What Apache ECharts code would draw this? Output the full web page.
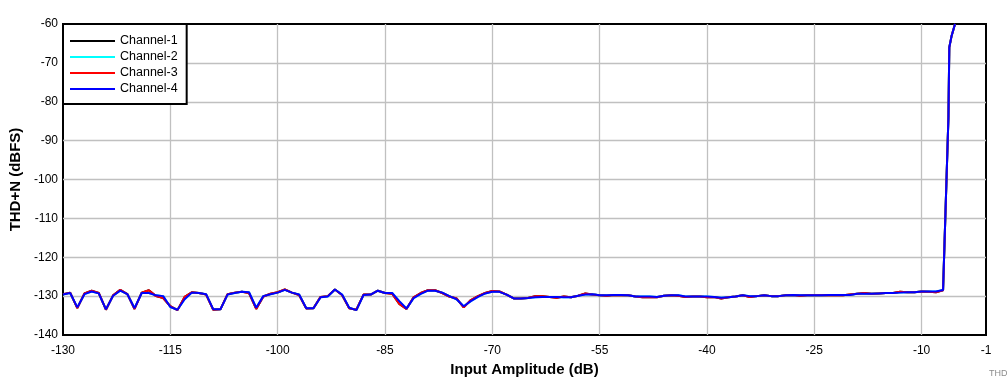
<!DOCTYPE html>
<html>
<head>
<meta charset="utf-8">
<script src="https://cdn.jsdelivr.net/npm/echarts@6/dist/echarts.min.js"></script>
<style>html,body{margin:0;padding:0;background:#fff}#c{width:1007px;height:387px}</style>
</head>
<body>
<div id="c"></div>
<script>
var amplitude = [-130,-129,-128,-127,-126,-125,-124,-123,-122,-121,-120,-119,-118,-117,-116,-115,-114,-113,-112,-111,-110,-109,-108,-107,-106,-105,-104,-103,-102,-101,-100,-99,-98,-97,-96,-95,-94,-93,-92,-91,-90,-89,-88,-87,-86,-85,-84,-83,-82,-81,-80,-79,-78,-77,-76,-75,-74,-73,-72,-71,-70,-69,-68,-67,-66,-65,-64,-63,-62,-61,-60,-59,-58,-57,-56,-55,-54,-53,-52,-51,-50,-49,-48,-47,-46,-45,-44,-43,-42,-41,-40,-39,-38,-37,-36,-35,-34,-33,-32,-31,-30,-29,-28,-27,-26,-25,-24,-23,-22,-21,-20,-19,-18,-17,-16,-15,-14,-13,-12,-11,-10,-9,-8,-7,-6.9,-6.25,-6.13,-5.8,-5.33];

var channel4 = [-129.6,-129.2,-132.9,-129.5,-128.8,-129.3,-133.4,-129.9,-128.6,-129.5,-133.1,-129.2,-129.2,-129.8,-130.0,-132.8,-133.5,-130.8,-129.1,-129.2,-129.5,-133.4,-133.4,-129.6,-129.2,-128.9,-129.0,-133.0,-130.0,-129.5,-129.1,-128.4,-129.1,-129.6,-133.1,-133.1,-130.3,-130.1,-128.3,-129.6,-133.0,-133.6,-129.7,-129.6,-128.6,-129.2,-129.2,-131.3,-133.2,-130.5,-129.4,-128.6,-128.6,-129.1,-130.0,-130.8,-132.6,-131.3,-130.2,-129.3,-128.9,-128.9,-129.6,-130.6,-130.6,-130.5,-130.3,-130.2,-130.2,-130.2,-130.3,-130.3,-129.9,-129.6,-129.5,-129.8,-129.8,-129.7,-129.7,-129.8,-130.1,-130.1,-130.1,-130.2,-129.9,-129.8,-129.8,-130.1,-130.1,-130.1,-130.1,-130.2,-130.4,-130.3,-130.1,-129.8,-130.0,-130.0,-129.8,-130.0,-130.0,-129.8,-129.7,-129.8,-129.8,-129.8,-129.8,-129.7,-129.7,-129.7,-129.7,-129.4,-129.4,-129.4,-129.3,-129.2,-129.2,-129.1,-129.0,-129.0,-128.8,-128.8,-128.8,-128.4,-128.2,-84.0,-66.0,-63.0,-60.0];

var channel3 = [-129.5,-129.1,-133.1,-129.3,-128.6,-129.2,-133.5,-129.8,-128.4,-129.5,-133.3,-129.1,-128.5,-130.0,-130.5,-132.6,-133.6,-130.2,-129.0,-129.2,-129.6,-133.5,-133.4,-129.5,-129.1,-128.9,-129.2,-133.3,-130.1,-129.4,-129.0,-128.3,-129.1,-129.7,-133.2,-133.1,-130.2,-130.0,-128.3,-129.7,-133.1,-133.5,-129.6,-129.6,-128.6,-129.2,-129.4,-132.0,-133.3,-130.3,-129.2,-128.5,-128.5,-129.2,-130.1,-130.6,-132.9,-131.0,-130.0,-129.2,-128.7,-128.8,-129.6,-130.6,-130.6,-130.5,-130.0,-130.0,-130.2,-130.4,-130.1,-130.3,-129.9,-129.3,-129.6,-129.8,-129.9,-129.7,-129.8,-129.8,-130.1,-130.3,-130.3,-130.3,-129.9,-129.8,-129.9,-130.2,-130.1,-130.1,-130.3,-130.2,-130.6,-130.3,-130.1,-129.8,-130.2,-130.0,-129.8,-130.0,-130.0,-129.8,-129.7,-129.9,-129.8,-129.8,-129.8,-129.7,-129.8,-129.8,-129.6,-129.4,-129.2,-129.4,-129.3,-129.2,-129.2,-128.9,-129.0,-129.0,-128.8,-128.9,-129.0,-128.5,-128.2,-84.0,-66.0,-63.0,-60.0];

var channel2 = channel4.slice();
var channel1 = channel3.slice();

var seriesNames = ['Channel-1','Channel-2','Channel-3','Channel-4'];
var seriesColors = ['#000000','#00ffff','#ff0000','#0000ff'];
var seriesValues = [channel1, channel2, channel3, channel4];

function pairs(vals){ return amplitude.map(function(a,i){ return [a, vals[i]]; }); }

var chart = echarts.init(document.getElementById('c'), null, {renderer:'canvas'});
var font = 'Arial, "Liberation Sans", sans-serif';
chart.setOption({
  animation:false,
  backgroundColor:'#ffffff',
  textStyle:{fontFamily:font},
  grid:{left:62, right:21, top:24, bottom:52, show:true, borderColor:'#000', borderWidth:2, backgroundColor:'transparent'},
  legend:{
    orient:'vertical', left:63, top:24,
    data:seriesNames,
    icon:'rect', itemWidth:45, itemHeight:2, itemGap:2, itemTextGap:10,
    padding:[10,9,8,7],
    backgroundColor:'#fff', borderColor:'#000', borderWidth:2, borderRadius:0,
    textStyle:{fontSize:12.5, color:'#000', fontFamily:font, lineHeight:14},
    z:10
  },
  xAxis:{
    type:'value', min:-130, max:-1, interval:15,
    name:'Input Amplitude (dB)', nameLocation:'middle', nameGap:24,
    nameTextStyle:{fontSize:15, fontWeight:'bold', color:'#000', fontFamily:font},
    axisLine:{show:false}, axisTick:{show:false},
    axisLabel:{fontSize:12, color:'#000', margin:10, fontFamily:font, showMaxLabel:true},
    splitLine:{show:true, showMinLine:false, showMaxLine:false, lineStyle:{color:'#c0c0c0', width:1.3}}
  },
  yAxis:{
    type:'value', min:-140, max:-60, interval:10,
    name:'THD+N (dBFS)', nameLocation:'middle', nameGap:40,
    nameTextStyle:{fontSize:15, fontWeight:'bold', color:'#000', fontFamily:font},
    axisLine:{show:false}, axisTick:{show:false},
    axisLabel:{fontSize:12, color:'#000', margin:5, fontFamily:font},
    splitLine:{show:true, showMinLine:false, showMaxLine:false, lineStyle:{color:'#c0c0c0', width:1.3}}
  },
  graphic:[{type:'text', left:989, top:369, style:{text:'THD', fontSize:9, fill:'#8c8c8c', fontFamily:font}}],
  series: seriesNames.map(function(n,i){
    return {name:n, type:'line', data:pairs(seriesValues[i]), showSymbol:false, symbol:'none',
      lineStyle:{color:seriesColors[i], width:2}, itemStyle:{color:seriesColors[i]}, clip:true, z:2+i};
  })
});
</script>
</body>
</html>
